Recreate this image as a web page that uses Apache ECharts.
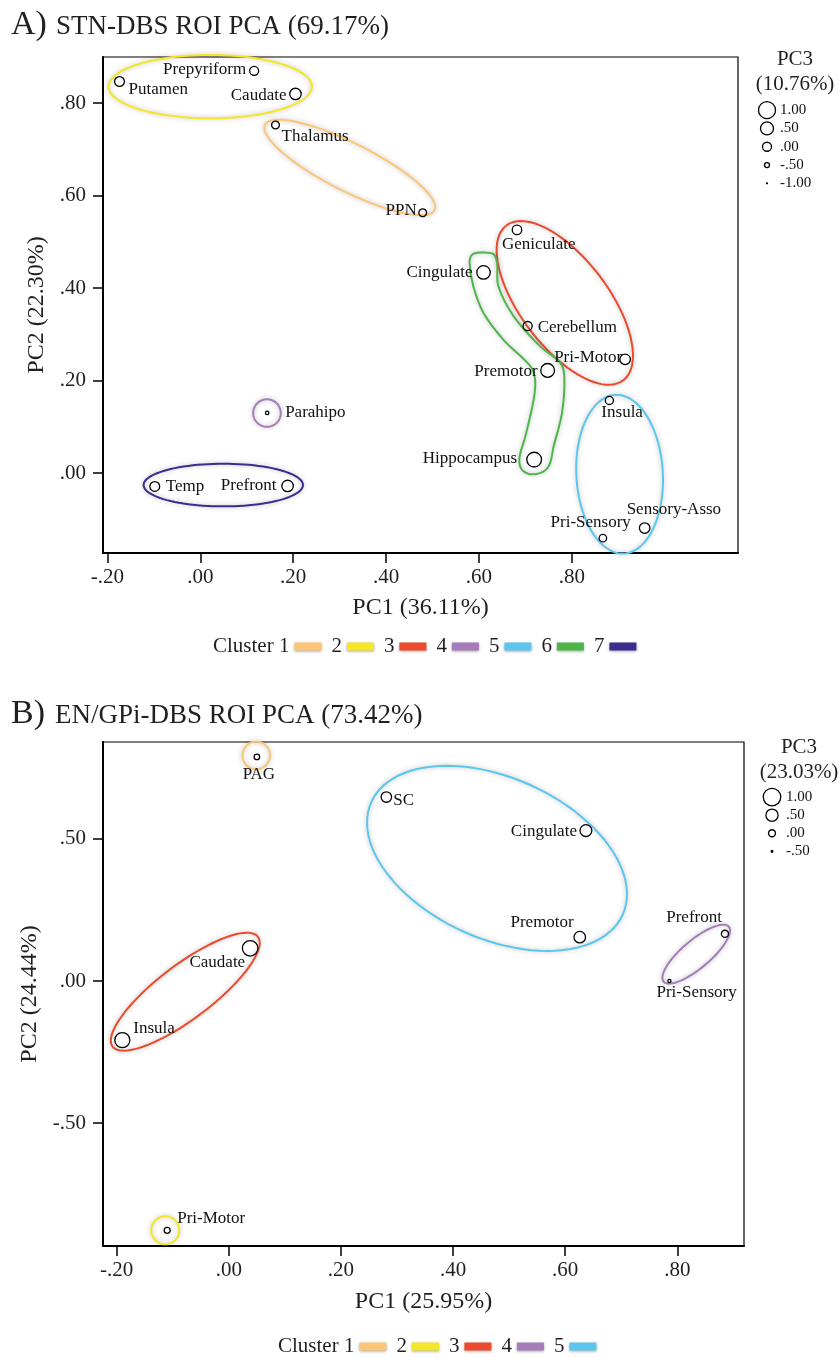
<!DOCTYPE html>
<html>
<head>
<meta charset="utf-8">
<script src="https://cdn.jsdelivr.net/npm/echarts@6/dist/echarts.min.js"></script>
<style>
html, body { margin: 0; padding: 0; background: #fff; }
#main { width: 839px; height: 1358px; }
</style>
</head>
<body>
<div id="main"></div>
<script>
// ---- panel A: STN-DBS ROI PCA ----
var namesA = ['Putamen', 'Prepyriform', 'Caudate', 'Thalamus', 'PPN', 'Geniculate', 'Cingulate', 'Cerebellum',
  'Pri-Motor', 'Premotor', 'Insula', 'Parahipo', 'Hippocampus', 'Temp', 'Prefront', 'Pri-Sensory', 'Sensory-Asso'];
var pc1A = [-0.174, 0.116, 0.205, 0.162, 0.479, 0.682, 0.610, 0.705, 0.915, 0.748, 0.881, 0.144, 0.719, -0.098, 0.188, 0.867, 0.957];
var pc2A = [0.847, 0.870, 0.820, 0.753, 0.563, 0.526, 0.434, 0.318, 0.246, 0.222, 0.157, 0.130, 0.029, -0.029, -0.028, -0.141, -0.119];
var pc3A = [0.10, 0.00, 0.31, -0.15, -0.15, 0.06, 0.56, 0.01, 0.19, 0.60, -0.11, -0.69, 0.72, 0.10, 0.31, -0.19, 0.19];
var xTicksA = [-0.2, 0, 0.2, 0.4, 0.6, 0.8];
var yTicksA = [0, 0.2, 0.4, 0.6, 0.8];
var sizeKeyA = [1, 0.5, 0, -0.5, -1];
var clustersA = [1, 2, 3, 4, 5, 6, 7];

// cluster outlines, data units: [cx, cy, ux, uy, vx, vy] (conjugate semi-axes)
var ellipsesA = {
  1: [0.322, 0.661, 0.1826, -0.0923, -0.0232, -0.0463],
  2: [0.0215, 0.836, 0.219, 0, 0, 0.0685],
  3: [0.785, 0.368, 0.1257, -0.1676, -0.0758, -0.0573],
  4: [0.1436, 0.1297, 0.0297, 0, 0, 0.0298],
  5: [0.903, -0.0026, 0.0086, -0.1717, -0.0931, -0.0039],
  7: [0.0495, -0.026, 0.1716, 0, 0, 0.0461]
};
// cluster 6 is a bent outline, not an ellipse
var hullA6 = [[0.603, 0.477], [0.631, 0.474], [0.639, 0.455], [0.642, 0.404], [0.675, 0.339], [0.732, 0.274],
  [0.775, 0.239], [0.784, 0.209], [0.779, 0.130], [0.761, 0.058], [0.750, 0.014], [0.725, -0.002], [0.696, 0.004],
  [0.687, 0.029], [0.700, 0.079], [0.718, 0.159], [0.721, 0.202], [0.711, 0.231], [0.653, 0.288], [0.610, 0.346],
  [0.588, 0.404], [0.580, 0.454], [0.585, 0.472]];

// ---- panel B: EN/GPi-DBS ROI PCA ----
var namesB = ['PAG', 'SC', 'Cingulate', 'Premotor', 'Prefront', 'Pri-Sensory', 'Caudate', 'Insula', 'Pri-Motor'];
var pc1B = [0.050, 0.281, 0.637, 0.626, 0.885, 0.786, 0.038, -0.190, -0.110];
var pc2B = [0.788, 0.647, 0.529, 0.154, 0.166, 0.000, 0.115, -0.208, -0.877];
var pc3B = [-0.14, 0.33, 0.46, 0.43, 0.01, -0.37, 0.81, 0.77, -0.09];
var xTicksB = [-0.2, 0, 0.2, 0.4, 0.6, 0.8];
var yTicksB = [-0.5, 0, 0.5];
var sizeKeyB = [1, 0.5, 0, -0.5];
var clustersB = [1, 2, 3, 4, 5];

var ellipsesB = {
  1: [0.0488, 0.7933, 0.0246, 0, 0, 0.0486],
  2: [-0.1134, -0.8768, 0.0250, 0, 0, 0.0493],
  3: [-0.0777, -0.0377, 0.1296, 0.1930, 0.0290, -0.0760],
  4: [0.8337, 0.0944, 0.0582, 0.0965, 0.0160, -0.0377],
  5: [0.4784, 0.4313, 0.2244, -0.1973, -0.0583, -0.2589]
};

var clusterColors = ['#FCC679', '#F5E726', '#EC4A2C', '#A57DBA', '#5BC7EE', '#4EB649', '#3B2C8F'];

var FONT = '"Liberation Serif", "Times New Roman", serif';
var INK = '#231F20';

// label placement: [align, dx, dy] from the point centre
var placeA = {
  'Putamen': ['left', 9, 8], 'Prepyriform': ['right', -8, -1], 'Caudate': ['right', -9, 2],
  'Thalamus': ['left', 6, 12], 'PPN': ['right', -6, -2], 'Geniculate': ['left', -15, 15],
  'Cingulate': ['right', -11, 0], 'Cerebellum': ['left', 10, 1], 'Pri-Motor': ['right', -3, -2],
  'Premotor': ['right', -10, 1], 'Insula': ['left', -8, 12], 'Parahipo': ['left', 18, 0],
  'Hippocampus': ['right', -17, -1], 'Temp': ['left', 11, 0], 'Prefront': ['right', -11, 0],
  'Pri-Sensory': ['right', 28, -16], 'Sensory-Asso': ['left', -18, -19]
};
var placeB = {
  'PAG': ['center', 2, 18], 'SC': ['left', 7, 4], 'Cingulate': ['right', -9, 1],
  'Premotor': ['right', -6, -15], 'Prefront': ['right', -3, -16], 'Pri-Sensory': ['left', -13, 12],
  'Caudate': ['right', -5, 14], 'Insula': ['left', 11, -12], 'Pri-Motor': ['left', 10, -12]
};

function fmt(v) {
  var s = Math.abs(v).toFixed(2);
  if (s.charAt(0) === '0') s = s.slice(1);
  return (v < 0 ? '-' : '') + s;
}

function clusterName(k) { return k === 1 ? 'Cluster 1' : String(k); }

function ellipsePts(e, api) {
  var pts = [];
  for (var i = 0; i < 96; i++) {
    var t = i / 96 * Math.PI * 2;
    var c = Math.cos(t), s = Math.sin(t);
    pts.push(api.coord([e[0] + c * e[2] + s * e[4], e[1] + c * e[3] + s * e[5]]));
  }
  return pts;
}

function outline(k, idx, ell, hull) {
  var color = clusterColors[k - 1];
  return {
    type: 'custom', name: clusterName(k), xAxisIndex: idx, yAxisIndex: idx, z: 2, silent: true,
    itemStyle: { color: color },
    data: [[0, 0]],
    renderItem: function (params, api) {
      var pts, smooth = 0;
      if (ell) {
        pts = ellipsePts(ell, api);
      } else {
        pts = hull.map(function (p) { return api.coord(p); });
        smooth = 0.35;
      }
      return {
        type: 'polygon',
        shape: { points: pts, smooth: smooth },
        style: { fill: 'none', stroke: color, lineWidth: 2, shadowBlur: 5, shadowColor: 'rgba(0,0,0,0.28)' }
      };
    }
  };
}

function points(idx, names, xs, ys, zs, place, sizeFn) {
  return {
    type: 'scatter', xAxisIndex: idx, yAxisIndex: idx, z: 5, silent: true,
    symbol: 'circle',
    symbolSize: function (v) { return sizeFn(v[2]); },
    itemStyle: { color: 'rgba(255,255,255,0)', borderColor: '#000', borderWidth: 1.3, opacity: 1 },
    label: { show: true, formatter: '{b}', fontFamily: FONT, fontSize: 17, color: '#111', opacity: 1 },
    data: names.map(function (n, i) {
      var p = place[n];
      return {
        name: n, value: [xs[i], ys[i], zs[i]],
        label: { position: 'inside', align: p[0], verticalAlign: 'middle', offset: [p[1], p[2]] }
      };
    })
  };
}

function sizeKey(idx, keys, sizeFn, dx) {
  return {
    type: 'scatter', xAxisIndex: idx, yAxisIndex: idx, silent: true, symbol: 'circle',
    symbolSize: function (v) { return sizeFn(v[2]); },
    itemStyle: { color: 'rgba(255,255,255,0)', borderColor: '#000', borderWidth: 1.3, opacity: 1 },
    label: {
      show: true, position: 'inside', align: 'left', verticalAlign: 'middle', offset: [dx, 0],
      fontFamily: FONT, fontSize: 15, color: '#111', opacity: 1,
      formatter: function (p) { return fmt(p.value[2]); }
    },
    data: keys.map(function (v, i) { return [0.5, i, v]; })
  };
}

function xAxisOf(idx, min, max, ticks, name, gap) {
  return {
    gridIndex: idx, type: 'value', min: min, max: max,
    name: name, nameLocation: 'middle', nameGap: gap,
    nameTextStyle: { fontFamily: FONT, fontSize: 24, color: INK },
    axisLine: { show: true, onZero: false, lineStyle: { color: '#000', width: 2 } },
    axisTick: { show: true, length: 10, customValues: ticks, lineStyle: { color: '#000', width: 1.5 } },
    axisLabel: { customValues: ticks, formatter: fmt, margin: 14, fontFamily: FONT, fontSize: 21, color: INK },
    splitLine: { show: false }
  };
}

function yAxisOf(idx, min, max, ticks, name, gap) {
  return {
    gridIndex: idx, type: 'value', min: min, max: max,
    name: name, nameLocation: 'middle', nameGap: gap, nameRotate: 90,
    nameTextStyle: { fontFamily: FONT, fontSize: 24, color: INK },
    axisLine: { show: true, onZero: false, lineStyle: { color: '#000', width: 2 } },
    axisTick: { show: true, length: 10, customValues: ticks, lineStyle: { color: '#000', width: 1.5 } },
    axisLabel: { customValues: ticks, formatter: fmt, margin: 17, fontFamily: FONT, fontSize: 21, color: INK },
    splitLine: { show: false }
  };
}

function legendOf(left, top, keys) {
  return {
    left: left, top: top, padding: 0, align: 'right', itemGap: 10, itemWidth: 27, itemHeight: 8,
    selectedMode: false,
    textStyle: { fontFamily: FONT, fontSize: 21, color: INK },
    data: keys.map(function (k) {
      return {
        name: clusterName(k), icon: 'rect',
        itemStyle: { color: clusterColors[k - 1], borderWidth: 0, shadowBlur: 3, shadowColor: 'rgba(0,0,0,0.35)', shadowOffsetY: 1 }
      };
    })
  };
}

function txt(x, y, text, size, align) {
  return {
    type: 'text', x: x, y: y, silent: true,
    style: { text: text, font: size + 'px ' + FONT, fill: INK, align: align || 'left', verticalAlign: 'middle' }
  };
}

var sizeA = function (v) { return 9 + 8 * v; };
var sizeB = function (v) { return 7 + 10.5 * v; };

var series = [];
clustersA.forEach(function (k) { series.push(outline(k, 0, ellipsesA[k], k === 6 ? hullA6 : null)); });
clustersB.forEach(function (k) { series.push(outline(k, 1, ellipsesB[k], null)); });
series.push(points(0, namesA, pc1A, pc2A, pc3A, placeA, sizeA));
series.push(points(1, namesB, pc1B, pc2B, pc3B, placeB, sizeB));
series.push(sizeKey(2, sizeKeyA, sizeA, 13));
series.push(sizeKey(3, sizeKeyB, sizeB, 14));

var chart = echarts.init(document.getElementById('main'));
var option = {
  backgroundColor: '#fff',
  animation: false,
  grid: [
    { left: 103, top: 57, width: 635, height: 496, show: true, borderColor: '#000', borderWidth: 1.2 },
    { left: 103, top: 742, width: 641, height: 504, show: true, borderColor: '#000', borderWidth: 1.2 },
    { left: 757, top: 101, width: 20, height: 91.5 },
    { left: 762, top: 788, width: 20, height: 72.4 }
  ],
  xAxis: [
    xAxisOf(0, -0.2095, 1.158, xTicksA, 'PC1 (36.11%)', 43),
    xAxisOf(1, -0.2245, 0.919, xTicksB, 'PC1 (25.95%)', 44),
    { gridIndex: 2, type: 'value', min: 0, max: 1, show: false },
    { gridIndex: 3, type: 'value', min: 0, max: 1, show: false }
  ],
  yAxis: [
    yAxisOf(0, -0.173, 0.900, yTicksA, 'PC2 (22.30%)', 52),
    yAxisOf(1, -0.932, 0.8405, yTicksB, 'PC2 (24.44%)', 59),
    { gridIndex: 2, type: 'category', data: sizeKeyA.map(fmt), inverse: true, show: false },
    { gridIndex: 3, type: 'category', data: sizeKeyB.map(fmt), inverse: true, show: false }
  ],
  legend: [legendOf(213, 636, clustersA), legendOf(278, 1336, clustersB)],
  graphic: [
    txt(11, 25, 'A)', 34),
    txt(56, 27, 'STN-DBS ROI PCA (69.17%)', 27),
    txt(11, 714, 'B)', 34),
    txt(55, 716, 'EN/GPi-DBS ROI PCA (73.42%)', 27),
    txt(795, 59, 'PC3', 21, 'center'),
    txt(795, 84, '(10.76%)', 21, 'center'),
    txt(799, 747, 'PC3', 21, 'center'),
    txt(799, 772, '(23.03%)', 21, 'center')
  ],
  series: series
};
chart.setOption(option);
</script>
</body>
</html>
